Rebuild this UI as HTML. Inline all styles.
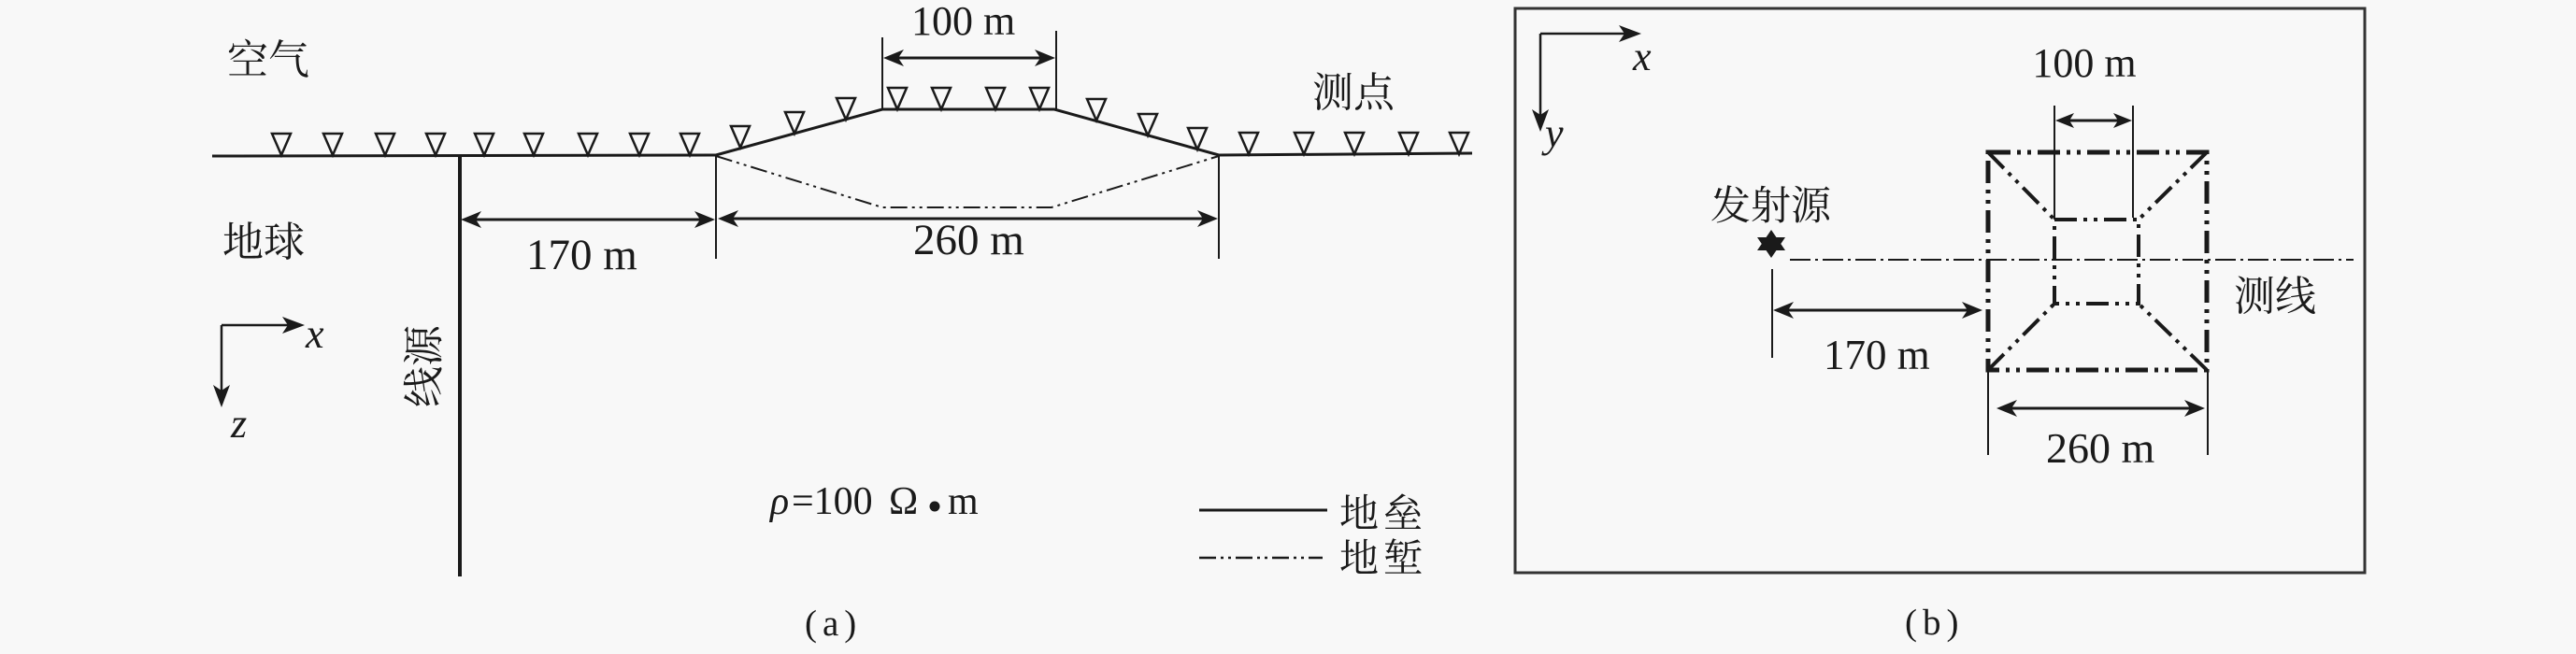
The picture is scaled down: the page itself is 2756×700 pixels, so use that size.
<!DOCTYPE html>
<html>
<head>
<meta charset="utf-8">
<style>
  html,body{margin:0;padding:0;background:#f8f8f8;}
  svg{display:block;}
  .lat{font-family:"Liberation Serif","Times New Roman",serif;fill:#1a1a1a;}
  .cjk{font-family:"Liberation Serif","Noto Serif CJK SC","Noto Sans CJK SC",serif;fill:#1a1a1a;}
  .it{font-style:italic;}
</style>
</head>
<body>
<svg width="2756" height="700" viewBox="0 0 2756 700" xmlns="http://www.w3.org/2000/svg">
  <rect x="0" y="0" width="2756" height="700" fill="#f8f8f8"/>

  <!-- ================= Panel (a) ================= -->
  <!-- ground surface with horst -->
  <polyline points="227,167 766,166 944,117 1128,117 1304,166 1575,164" fill="none" stroke="#1a1a1a" stroke-width="3"/>
  <!-- graben dash-dot-dot -->
  <polyline points="766,167 944,222 1125,222 1304,167" fill="none" stroke="#1a1a1a" stroke-width="2" stroke-dasharray="18 5 3 5 3 5"/>

  <!-- measurement point triangles -->
  <g fill="#f8f8f8" stroke="#1a1a1a" stroke-width="2.5" stroke-linejoin="miter">
    <polygon points="291,143 311,143 301,166"/>
    <polygon points="346,143 366,143 356,166"/>
    <polygon points="402,143 422,143 412,166"/>
    <polygon points="456,143 476,143 466,166"/>
    <polygon points="508,143 528,143 518,166"/>
    <polygon points="561,143 581,143 571,166"/>
    <polygon points="619,143 639,143 629,166"/>
    <polygon points="674,143 694,143 684,166"/>
    <polygon points="728,143 748,143 738,166"/>
    <polygon points="782,135 802,135 792,158"/>
    <polygon points="840,120 860,120 850,143"/>
    <polygon points="895,105 915,105 905,128"/>
    <polygon points="950,94 970,94 960,117"/>
    <polygon points="997,94 1017,94 1007,117"/>
    <polygon points="1055,94 1075,94 1065,117"/>
    <polygon points="1102,94 1122,94 1112,117"/>
    <polygon points="1163,106 1183,106 1173,129"/>
    <polygon points="1218,122 1238,122 1228,145"/>
    <polygon points="1271,137 1291,137 1281,160"/>
    <polygon points="1326,142 1346,142 1336,165"/>
    <polygon points="1385,142 1405,142 1395,165"/>
    <polygon points="1439,142 1459,142 1449,165"/>
    <polygon points="1497,142 1517,142 1507,165"/>
    <polygon points="1551,142 1571,142 1561,165"/>
  </g>

  <!-- line source -->
  <line x1="492" y1="167" x2="492" y2="617" stroke="#1a1a1a" stroke-width="4"/>

  <!-- dimension ticks -->
  <g stroke="#1a1a1a" stroke-width="2">
    <line x1="766" y1="166" x2="766" y2="277"/>
    <line x1="1304" y1="166" x2="1304" y2="277"/>
    <line x1="944" y1="40" x2="944" y2="117"/>
    <line x1="1130" y1="33" x2="1130" y2="117"/>
  </g>

  <!-- dimension arrows (a) -->
  <g stroke="#1a1a1a" stroke-width="3">
    <line x1="500" y1="235" x2="757" y2="235"/>
    <line x1="775" y1="234" x2="1296" y2="234"/>
    <line x1="952" y1="62" x2="1122" y2="62"/>
  </g>
  <g fill="#1a1a1a">
    <!-- 170 -->
    <polygon points="493,235 515,226 509,235 515,244"/>
    <polygon points="765,235 743,226 749,235 743,244"/>
    <!-- 260 -->
    <polygon points="768,234 790,225 784,234 790,243"/>
    <polygon points="1303,234 1281,225 1287,234 1281,243"/>
    <!-- 100 -->
    <polygon points="945,62 967,53 961,62 967,71"/>
    <polygon points="1129,62 1107,53 1113,62 1107,71"/>
  </g>

  <!-- axes (a) -->
  <g stroke="#1a1a1a" stroke-width="2.5">
    <line x1="237" y1="348" x2="312" y2="348"/>
    <line x1="237" y1="348" x2="237" y2="422"/>
  </g>
  <g fill="#1a1a1a">
    <polygon points="326,348 302,339 308,348 302,357"/>
    <polygon points="237,436 228,412 237,418 246,412"/>
  </g>

  <!-- texts (a) -->
  <text class="cjk" x="243" y="79" font-size="44">空气</text>
  <text class="cjk" x="238" y="274" font-size="44">地球</text>
  <text class="cjk" x="1404" y="114" font-size="44">测点</text>
  <text class="cjk" font-size="44" text-anchor="middle" dominant-baseline="central" transform="translate(454,392) rotate(-90)">线源</text>

  <text class="lat" x="975" y="37" font-size="44">100 m</text>
  <text class="lat" x="563" y="288" font-size="47">170 m</text>
  <text class="lat" x="977" y="272" font-size="47">260 m</text>

  <text class="lat it" x="327" y="372" font-size="44">x</text>
  <text class="lat it" x="247" y="468" font-size="44">z</text>

  <text class="lat" y="550" font-size="42"><tspan class="it" x="824">ρ</tspan><tspan x="847">=100</tspan><tspan x="951">Ω</tspan><tspan x="1014">m</tspan></text>
  <circle cx="1000" cy="542" r="5.5" fill="#1a1a1a"/>

  <!-- legend -->
  <line x1="1283" y1="546" x2="1420" y2="546" stroke="#1a1a1a" stroke-width="3"/>
  <line x1="1283" y1="597" x2="1415" y2="597" stroke="#1a1a1a" stroke-width="2.5" stroke-dasharray="18 5 3 5 3 5"/>
  <text class="cjk" x="1433" y="564" font-size="42" letter-spacing="5">地垒</text>
  <text class="cjk" x="1433" y="612" font-size="42" letter-spacing="5">地堑</text>

  <text class="lat" x="861" y="680" font-size="39" letter-spacing="6">(a)</text>

  <!-- ================= Panel (b) ================= -->
  <rect x="1621" y="9" width="909" height="604" fill="none" stroke="#333" stroke-width="3"/>

  <!-- axes (b) -->
  <g stroke="#1a1a1a" stroke-width="2.5">
    <line x1="1648" y1="36" x2="1742" y2="36"/>
    <line x1="1648" y1="36" x2="1648" y2="127"/>
  </g>
  <g fill="#1a1a1a">
    <polygon points="1756,36 1732,27 1738,36 1732,45"/>
    <polygon points="1648,141 1639,117 1648,123 1657,117"/>
  </g>
  <text class="lat it" x="1747" y="75" font-size="44">x</text>
  <text class="lat it" x="1653" y="157" font-size="44">y</text>

  <!-- source star -->
  <g fill="#1a1a1a">
    <polygon points="1895,246 1910,268 1880,268"/>
    <polygon points="1895,276 1910,254 1880,254"/>
  </g>
  <text class="cjk" x="1830" y="235" font-size="43">发射源</text>

  <!-- survey line -->
  <line x1="1915" y1="278" x2="2518" y2="278" stroke="#1a1a1a" stroke-width="2" stroke-dasharray="22 5 3 5"/>
  <text class="cjk" x="2390" y="332" font-size="44">测线</text>

  <!-- 170 m (b) -->
  <line x1="1896" y1="288" x2="1896" y2="383" stroke="#1a1a1a" stroke-width="2"/>
  <line x1="1904" y1="332" x2="2112" y2="332" stroke="#1a1a1a" stroke-width="3"/>
  <polygon points="1897,332 1919,323 1913,332 1919,341" fill="#1a1a1a"/>
  <polygon points="2121,332 2099,323 2105,332 2099,341" fill="#1a1a1a"/>
  <text class="lat" x="1951" y="395" font-size="45">170 m</text>

  <!-- outer / inner squares -->
  <g fill="none" stroke="#1a1a1a" stroke-dasharray="24 7 4 7 4 7">
    <rect x="2127" y="163" width="234" height="233" stroke-width="5"/>
    <rect x="2198" y="235" width="90" height="90" stroke-width="4"/>
    <line x1="2127" y1="163" x2="2198" y2="235" stroke-width="4"/>
    <line x1="2361" y1="163" x2="2288" y2="235" stroke-width="4"/>
    <line x1="2127" y1="396" x2="2198" y2="325" stroke-width="4"/>
    <line x1="2361" y1="396" x2="2288" y2="325" stroke-width="4"/>
  </g>

  <!-- 100 m (b) -->
  <g stroke="#1a1a1a" stroke-width="2">
    <line x1="2198" y1="113" x2="2198" y2="235"/>
    <line x1="2282" y1="113" x2="2282" y2="233"/>
  </g>
  <line x1="2206" y1="129" x2="2274" y2="129" stroke="#1a1a1a" stroke-width="3"/>
  <polygon points="2199,129 2219,121 2214,129 2219,137" fill="#1a1a1a"/>
  <polygon points="2281,129 2261,121 2266,129 2261,137" fill="#1a1a1a"/>
  <text class="lat" x="2230" y="82" font-size="44" text-anchor="middle">100 m</text>

  <!-- 260 m (b) -->
  <g stroke="#1a1a1a" stroke-width="2">
    <line x1="2127" y1="396" x2="2127" y2="487"/>
    <line x1="2362" y1="396" x2="2362" y2="487"/>
  </g>
  <line x1="2144" y1="437" x2="2351" y2="437" stroke="#1a1a1a" stroke-width="3"/>
  <polygon points="2136,437 2158,428 2152,437 2158,446" fill="#1a1a1a"/>
  <polygon points="2359,437 2337,428 2343,437 2337,446" fill="#1a1a1a"/>
  <text class="lat" x="2189" y="495" font-size="46">260 m</text>

  <text class="lat" x="2038" y="679" font-size="39" letter-spacing="6">(b)</text>
</svg>
</body>
</html>
